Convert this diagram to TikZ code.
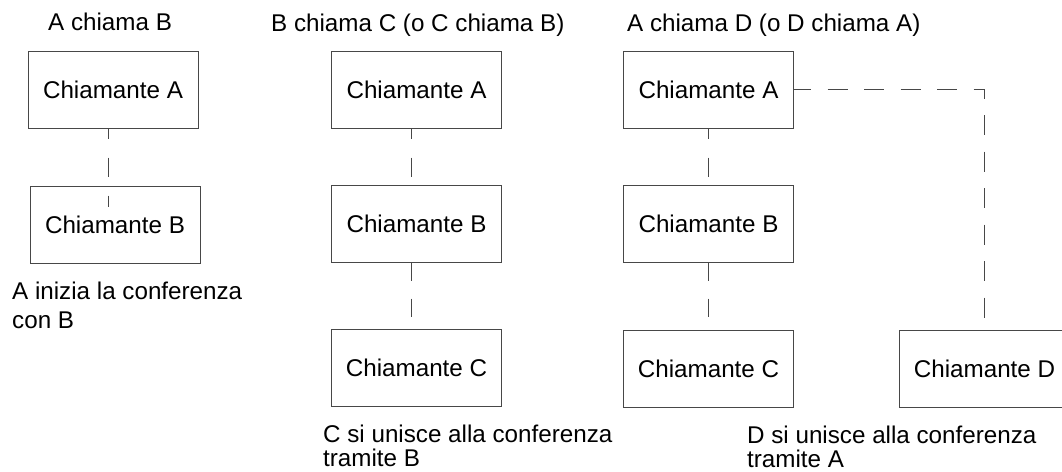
\documentclass[tikz,border=0pt]{standalone}
\usepackage{fontspec}
\setmainfont{Liberation Sans}
\begin{document}
\begin{tikzpicture}[x=1pt,y=-1pt,
  font=\fontsize{24.2}{28.5}\selectfont,
  box/.style={draw=black!72,line width=1pt,minimum width=170pt,minimum height=77pt,inner sep=0pt},
  lbl/.style={anchor=base west,inner sep=0pt},
  connab/.style={draw=black!72,line width=1pt,dash pattern=on 19pt off 19pt,dash phase=9pt},
  connbc/.style={draw=black!72,line width=1pt,dash pattern=on 18pt off 18pt},
  connad/.style={draw=black!72,line width=1pt,dash pattern=on 20pt off 16.5pt,dash phase=3pt}]
\clip (0,0) rectangle (1062,471);
% column 1
\node[lbl] (t1) at (48,30) {A chiama B};
\node[box] (a1) at (113,89.5) {Chiamante A};
\node[box] (b1) at (115,224.5) {Chiamante B};
\node[lbl] (l1) at (12,299) {A inizia la conferenza};
\node[lbl] (l1b) at (12,328) {con B};
\draw[connab] ([xshift=-5pt]a1.south) -- ([xshift=-5pt]a1.south |- b1.north) -- ++(0,21);
% column 2
\node[lbl] (t2) at (271,31) {B chiama C (o C chiama B)};
\node[box] (a2) at (416.5,89.5) {Chiamante A};
\node[box] (b2) at (416.5,223.5) {Chiamante B};
\node[box] (c2) at (416.5,367.5) {Chiamante C};
\node[lbl] (l2) at (323,442) {C si unisce alla conferenza};
\node[lbl] (l2b) at (323,466) {tramite B};
\draw[connab] ([xshift=-5pt]a2.south) -- ([xshift=-5pt]a2.south |- b2.north);
\draw[connbc] ([xshift=-5pt]b2.south) -- ([xshift=-5pt]b2.south |- c2.north);
% column 3
\node[lbl] (t3) at (627,31) {A chiama D (o D chiama A)};
\node[box] (a3) at (708.5,89.5) {Chiamante A};
\node[box] (b3) at (708.5,223.5) {Chiamante B};
\node[box] (c3) at (708.5,368.5) {Chiamante C};
\node[box] (d3) at (984.5,368.5) {Chiamante D};
\node[lbl] (l3) at (747,443.5) {D si unisce alla conferenza};
\node[lbl] (l3b) at (747,467) {tramite A};
\draw[connab] (a3.south) -- (b3.north);
\draw[connbc] (b3.south) -- (c3.north);
\draw[connad] (a3.east) -| (d3.north);
\end{tikzpicture}
\end{document}
